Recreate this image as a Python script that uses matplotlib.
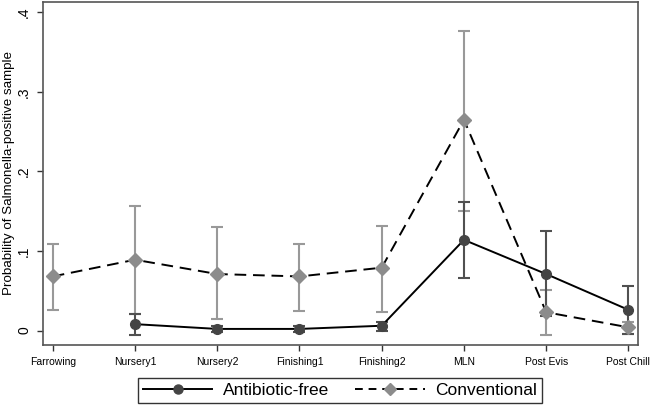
#!/usr/bin/env python3
import matplotlib
matplotlib.use('Agg')
import matplotlib.pyplot as plt
from matplotlib.lines import Line2D

# data
stages = ['Farrowing', 'Nursery1', 'Nursery2', 'Finishing1', 'Finishing2', 'MLN', 'Post Evis', 'Post Chill']

# antibiotic-free (no Farrowing value)
abf_x = [1, 2, 3, 4, 5, 6, 7]
abf_p = [0.008, 0.002, 0.002, 0.006, 0.114, 0.071, 0.026]
abf_lo = [-0.006, -0.002, -0.002, 0.000, 0.066, 0.018, -0.004]
abf_hi = [0.021, 0.006, 0.006, 0.011, 0.162, 0.125, 0.056]

# conventional
conv_x = [0, 1, 2, 3, 4, 5, 6, 7]
conv_p = [0.068, 0.089, 0.071, 0.068, 0.079, 0.265, 0.023, 0.004]
conv_lo = [0.026, 0.021, 0.014, 0.025, 0.023, 0.150, -0.006, -0.004]
conv_hi = [0.109, 0.157, 0.130, 0.109, 0.132, 0.376, 0.051, 0.011]

plt.rcParams['font.family'] = ['Liberation Sans', 'DejaVu Sans']

fig = plt.figure(figsize=(6.5, 4.11), dpi=100)
ax = fig.add_axes([0.066, 0.161, 0.916, 0.834])

# conventional first so antibiotic-free sits on top
cerr = [[p - l for p, l in zip(conv_p, conv_lo)], [h - p for p, h in zip(conv_p, conv_hi)]]
ax.errorbar(conv_x, conv_p, yerr=cerr, fmt='none', ecolor='#999999', elinewidth=1.5, capsize=4, capthick=1.5)
ax.plot(conv_x, conv_p, color='black', lw=1.4, ls=(0, (6, 3.5)), zorder=3)
ax.plot(conv_x, conv_p, ls='none', marker='D', ms=7, color='#8c8c8c', zorder=4)

aerr = [[p - l for p, l in zip(abf_p, abf_lo)], [h - p for p, h in zip(abf_p, abf_hi)]]
ax.errorbar(abf_x, abf_p, yerr=aerr, fmt='none', ecolor='#505050', elinewidth=1.5, capsize=4, capthick=1.5)
ax.plot(abf_x, abf_p, color='black', lw=1.4, zorder=5)
ax.plot(abf_x, abf_p, ls='none', marker='o', ms=7, color='#444444', zorder=6)

ax.set_xlim(-0.12, 7.12)
ax.set_ylim(-0.018, 0.413)
ax.set_xticks(range(len(stages)))
ax.set_xticklabels(stages, fontsize=7.5)
ax.set_yticks([0, 0.1, 0.2, 0.3, 0.4])
ax.set_yticklabels(['0', '.1', '.2', '.3', '.4'], rotation=90, va='center', fontsize=10)
ax.tick_params(axis='both', length=4.5, width=1, color='#333333', pad=4)
fig.text(9 / 650, 0.578, 'Probability of Salmonella-positive sample', rotation=90,
         ha='center', va='center', fontsize=9.6)
for s in ax.spines.values():
    s.set_color('#555555')
    s.set_linewidth(1.2)

h1 = Line2D([], [], color='black', lw=1.4, marker='o', ms=6.5, mfc='#444444', mec='#444444')
h2 = Line2D([], [], color='black', lw=1.4, ls=(0, (4, 3)), marker='D', ms=6.5, mfc='#8c8c8c', mec='#8c8c8c')
leg = fig.legend([h1, h2], ['Antibiotic-free', 'Conventional'], loc='center', bbox_to_anchor=(0.523, 0.05),
                 ncol=2, fontsize=12.5, frameon=True, fancybox=False, handlelength=4, columnspacing=1.5,
                 borderpad=0.3, handletextpad=0.6)
leg.get_frame().set_edgecolor('black')
leg.get_frame().set_linewidth(1)

plt.savefig('out.png', dpi=100)
